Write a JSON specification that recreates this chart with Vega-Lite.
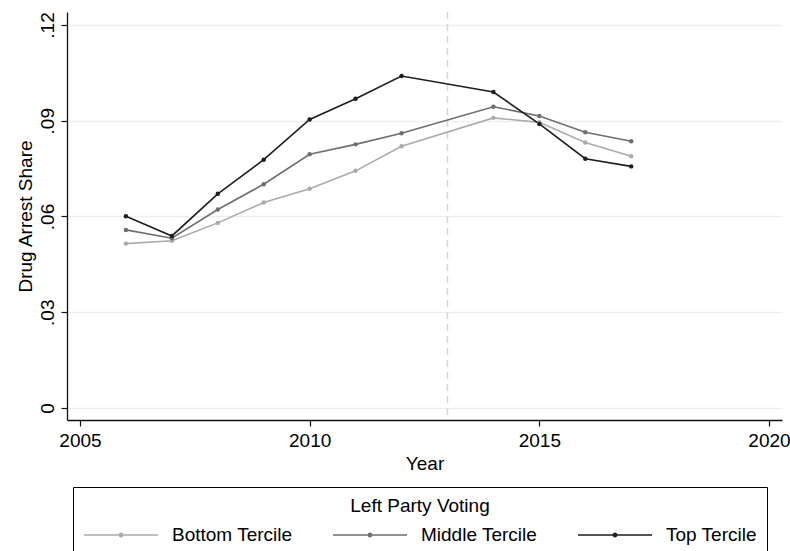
{
  "$schema": "https://vega.github.io/schema/vega-lite/v6.json",
  "autosize": "none",
  "width": 715,
  "height": 408,
  "padding": {"left": 67, "top": 12, "right": 8, "bottom": 131},
  "background": "white",
  "config": {
    "font": "Liberation Sans",
    "view": {"stroke": null},
    "axis": {
      "domainColor": "#111111",
      "domainWidth": 1.3,
      "tickColor": "#111111",
      "tickWidth": 1.2,
      "tickSize": 6,
      "labelFontSize": 19,
      "labelColor": "#000000",
      "titleFontSize": 19,
      "titleFontWeight": "normal",
      "titleColor": "#000000",
      "labelFont": "Liberation Sans",
      "titleFont": "Liberation Sans"
    },
    "legend": {
      "labelFont": "Liberation Sans",
      "titleFont": "Liberation Sans"
    }
  },
  "datasets": {
    "shares": [
      {"year": 2006, "group": "Bottom Tercile", "share": 0.0515},
      {"year": 2007, "group": "Bottom Tercile", "share": 0.0524},
      {"year": 2008, "group": "Bottom Tercile", "share": 0.0580},
      {"year": 2009, "group": "Bottom Tercile", "share": 0.0644},
      {"year": 2010, "group": "Bottom Tercile", "share": 0.0687},
      {"year": 2011, "group": "Bottom Tercile", "share": 0.0743},
      {"year": 2012, "group": "Bottom Tercile", "share": 0.0820},
      {"year": 2014, "group": "Bottom Tercile", "share": 0.0909},
      {"year": 2015, "group": "Bottom Tercile", "share": 0.0895},
      {"year": 2016, "group": "Bottom Tercile", "share": 0.0832},
      {"year": 2017, "group": "Bottom Tercile", "share": 0.0789},
      {"year": 2006, "group": "Middle Tercile", "share": 0.0558},
      {"year": 2007, "group": "Middle Tercile", "share": 0.0532},
      {"year": 2008, "group": "Middle Tercile", "share": 0.0622},
      {"year": 2009, "group": "Middle Tercile", "share": 0.0701},
      {"year": 2010, "group": "Middle Tercile", "share": 0.0795},
      {"year": 2011, "group": "Middle Tercile", "share": 0.0826},
      {"year": 2012, "group": "Middle Tercile", "share": 0.0861},
      {"year": 2014, "group": "Middle Tercile", "share": 0.0944},
      {"year": 2015, "group": "Middle Tercile", "share": 0.0915},
      {"year": 2016, "group": "Middle Tercile", "share": 0.0864},
      {"year": 2017, "group": "Middle Tercile", "share": 0.0836},
      {"year": 2006, "group": "Top Tercile", "share": 0.0601},
      {"year": 2007, "group": "Top Tercile", "share": 0.0539},
      {"year": 2008, "group": "Top Tercile", "share": 0.0671},
      {"year": 2009, "group": "Top Tercile", "share": 0.0778},
      {"year": 2010, "group": "Top Tercile", "share": 0.0904},
      {"year": 2011, "group": "Top Tercile", "share": 0.0969},
      {"year": 2012, "group": "Top Tercile", "share": 0.1040},
      {"year": 2014, "group": "Top Tercile", "share": 0.0990},
      {"year": 2015, "group": "Top Tercile", "share": 0.0890},
      {"year": 2016, "group": "Top Tercile", "share": 0.0781},
      {"year": 2017, "group": "Top Tercile", "share": 0.0757}
    ],
    "policy": [{"year": 2013}]
  },
  "encoding": {
    "x": {
      "field": "year",
      "type": "quantitative",
      "scale": {"domain": [2004.717, 2020.283], "nice": false, "zero": false},
      "axis": {
        "title": "Year",
        "values": [2005, 2010, 2015, 2020],
        "format": "d",
        "grid": false,
        "labelPadding": 5,
        "titlePadding": 4
      }
    }
  },
  "layer": [
    {
      "data": {"name": "policy"},
      "mark": {"type": "rule", "color": "#d6d6d6", "strokeDash": [7, 5], "strokeWidth": 1.5}
    },
    {
      "data": {"name": "shares"},
      "mark": {"type": "line", "strokeWidth": 1.6},
      "encoding": {
        "y": {
          "field": "share",
          "type": "quantitative",
          "scale": {"domain": [-0.00376, 0.12407], "nice": false, "zero": false},
          "axis": {
            "title": "Drug Arrest Share",
            "values": [0, 0.03, 0.06, 0.09, 0.12],
            "labelExpr": "datum.value == 0 ? '0' : replace(format(datum.value, '.2f'), '0.', '.')",
            "labelAngle": 270,
            "labelAlign": "center",
            "labelBaseline": "bottom",
            "labelPadding": 4,
            "titlePadding": 3,
            "grid": true,
            "gridColor": "#e9f0f2",
            "gridWidth": 1.3
          }
        },
        "color": {
          "field": "group",
          "type": "nominal",
          "scale": {
            "domain": ["Bottom Tercile", "Middle Tercile", "Top Tercile"],
            "range": ["#ababab", "#6f6f6f", "#1e1e1e"]
          },
          "legend": {
            "title": "Left Party Voting",
            "orient": "none",
            "legendX": 6,
            "legendY": 475,
            "direction": "horizontal",
            "columns": 3,
            "symbolType": "M-1,0H1M-0.045,0A0.045,0.045,0,1,1,0.045,0A0.045,0.045,0,1,1,-0.045,0",
            "symbolSize": 5476,
            "symbolStrokeWidth": 1.5,
            "labelOffset": 13,
            "columnPadding": 37,
            "padding": 10,
            "strokeColor": "#000000",
            "titleAnchor": "middle",
            "titleFontSize": 19,
            "titleFontWeight": "normal",
            "titleColor": "#000000",
            "labelFontSize": 19,
            "labelColor": "#000000",
            "titlePadding": -19,
            "labelLimit": 0
          }
        }
      }
    },
    {
      "data": {"name": "shares"},
      "mark": {"type": "point", "filled": true, "size": 20, "opacity": 1},
      "encoding": {
        "y": {"field": "share", "type": "quantitative"},
        "color": {"field": "group", "type": "nominal", "legend": null}
      }
    }
  ]
}
